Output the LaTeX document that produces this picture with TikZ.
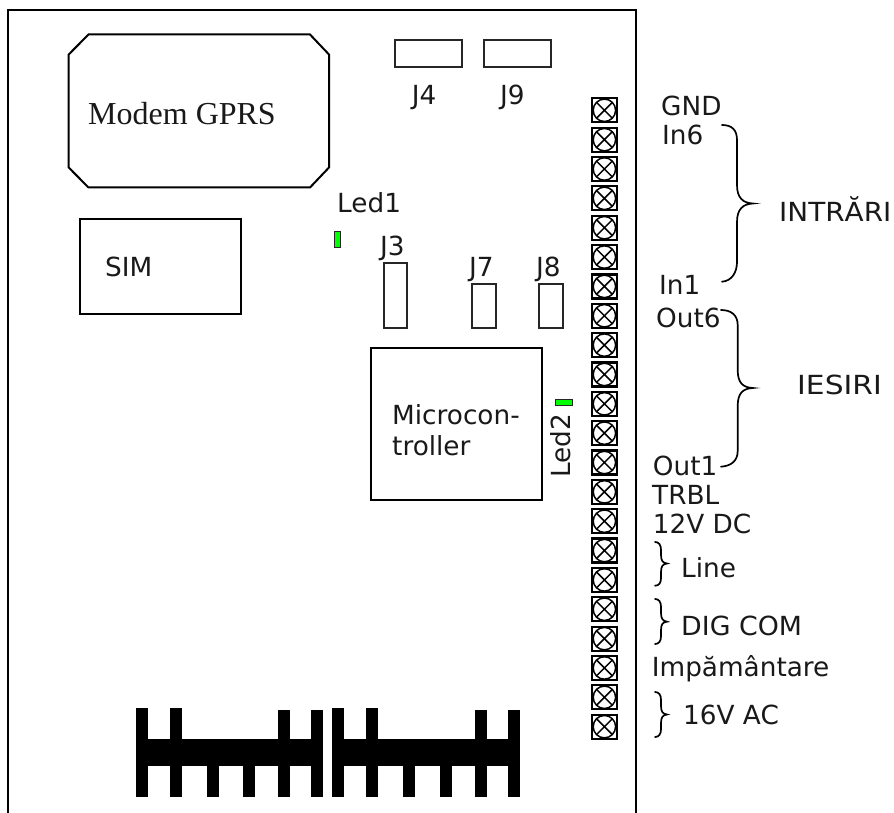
\documentclass[tikz,border=0pt]{standalone}
\usepackage{fontspec}
\setmainfont{DejaVu Sans}
\newfontfamily\serifsel{Liberation Serif}
\tikzset{
  x=1pt,y=-1pt,
  lab/.style={inner sep=0pt,anchor=base west,font=\fontsize{26.3}{26.3}\selectfont,text=black!90},
  brace/.style={draw=black,line width=1.7pt,line cap=round},
  ledbox/.style={draw=black!85,line width=1.6pt,fill=green},
  fin/.style={fill=black,draw=none},
  box/.style={draw=black,line width=2pt},
  thinbox/.style={draw=black!85,line width=1.8pt},
}
\begin{document}
\begin{tikzpicture}
\useasboundingbox (0,0) rectangle (894,813);
% board
\coordinate (bl) at (8,813); \coordinate (tl) at (8,10); \coordinate (tr) at (636,10); \coordinate (br) at (636,813);
\draw[box] (bl) -- (tl) -- (tr) -- (br);
% modem
\draw[box] (88.5,34.5) -- (310,34.5) -- (329,54.5) -- (329,167.5) -- (310,187.5) -- (88.5,187.5) -- (68.7,167.5) -- (68.7,54.5) -- cycle;
\node[lab,font=\serifsel\fontsize{32}{32}\selectfont] (modem) at (88,125) {Modem GPRS};
% SIM
\draw[box] (80,219) rectangle (240.7,314);
\node[lab] (sim) at (105,276) {SIM};
% connectors
\draw[thinbox] (394.7,40) rectangle (462.3,66.7);
\draw[thinbox] (483.7,40) rectangle (550.7,66.7);
\node[lab] (j4) at (411.7,105) {J4};
\node[lab] (j9) at (500,105) {J9};
\draw[thinbox] (384,262.7) rectangle (407,327.7);
\draw[thinbox] (472.3,284) rectangle (496.3,328.3);
\draw[thinbox] (539,284) rectangle (562.7,328.3);
\node[lab] (j3) at (380,255) {J3};
\node[lab] (j7) at (469,276) {J7};
\node[lab] (j8) at (536,276) {J8};
% leds
\node[lab] (led1) at (337,212.7) {Led1};
\draw[ledbox] (334.5,231.5) rectangle (340.5,247.5);
\draw[ledbox] (555.5,399.5) rectangle (572.5,405.5);
\node[lab,rotate=90,anchor=base west] (led2) at (570.7,478) {Led2};
% micro
\draw[box] (371,348.3) rectangle (542.3,500);
\node[lab] (mc1) at (392,424) {Microcon-};
\node[lab] (mc2) at (392,455) {troller};
% terminals
\foreach \i in {0,...,21}{
  \pgfmathsetmacro{\yy}{110.3+29.35*\i}
  \draw[line width=2.2pt] (592.2,\yy-12) rectangle (616.6,\yy+12);
  \draw[line width=1.5pt] (604.4,\yy) circle (11.2);
  \draw[line width=1.5pt] (596.4,\yy-8) -- (612.4,\yy+8) (596.4,\yy+8) -- (612.4,\yy-8);
}
% labels
\node[lab] (gnd) at (661,115.7) {GND};
\node[lab] (in6) at (662,145) {In6};
\node[lab] (in1) at (659,294) {In1};
\node[lab] (out6) at (656,327) {Out6};
\node[lab] (out1) at (652.7,475) {Out1};
\node[lab] (trbl) at (652,504) {TRBL};
\node[lab] (v12) at (652.7,533) {12V DC};
\node[lab] (line) at (681,577) {Line};
\node[lab] (dig) at (681,635) {\scalebox{1.02}[1]{DIG COM}};
\node[lab] (imp) at (651.7,676) {Impământare};
\node[lab] (v16) at (683,724) {16V AC};
\node[lab] (intr) at (779,222) {\scalebox{1.06}[1]{INTRĂRI}};
\node[lab] (ies) at (797,394) {\scalebox{1.13}[1]{IESIRI}};
% braces
\draw[brace] (722,125) .. controls (732,125) and (737,130) .. (737,140) -- (737,185) .. controls (737,198) and (743,203) .. (753,203.5) .. controls (743,204) and (737,209) .. (737,222) -- (737,262) .. controls (737,272) and (732,281) .. (722,281.7);
\draw[brace] (721,310) .. controls (731,310) and (737.7,315) .. (737.7,325) -- (737.7,370) .. controls (737.7,383) and (743,387.5) .. (752.7,388) .. controls (743,388.5) and (737.7,393) .. (737.7,406) -- (737.7,451) .. controls (737.7,461) and (731,466) .. (721,466.7);
\draw[brace] (655,542) .. controls (659,542) and (661,545) .. (661,550) -- (661,555) .. controls (661,561) and (663,563) .. (667,563.5) .. controls (663,564) and (661,566) .. (661,572) -- (661,578) .. controls (661,583) and (659,585.7) .. (655,585.7);
\draw[brace] (655,599) .. controls (659,599) and (661,602) .. (661,607) -- (661,613) .. controls (661,619) and (663,621) .. (667,621.7) .. controls (663,622) and (661,624) .. (661,630) -- (661,636) .. controls (661,641) and (659,644) .. (655,644);
\draw[brace] (655,692) .. controls (659,692) and (661,695) .. (661,700) -- (661,706) .. controls (661,712) and (663,714) .. (667,714.5) .. controls (663,715) and (661,717) .. (661,723) -- (661,729) .. controls (661,734) and (659,737) .. (655,737);
% heatsink
\fill[fin] (135.7,739.3) rectangle (323.3,766);
\foreach \a/\t in {135.7/708,170/708,278.3/710,311.3/710}{\fill[fin] (\a,\t) rectangle (\a+12,740);}
\foreach \a in {135.7,170,206.7,243.3,278.3,311.3}{\fill[fin] (\a,765) rectangle (\a+12,796.7);}
\fill[fin] (332.3,739.3) rectangle (520,766);
\foreach \a/\t in {332.3/708,366.3/708,475.3/710,508/710}{\fill[fin] (\a,\t) rectangle (\a+12,740);}
\foreach \a in {332.3,366.3,403,439.7,475.3,508}{\fill[fin] (\a,765) rectangle (\a+12,796.7);}
\end{tikzpicture}
\end{document}
